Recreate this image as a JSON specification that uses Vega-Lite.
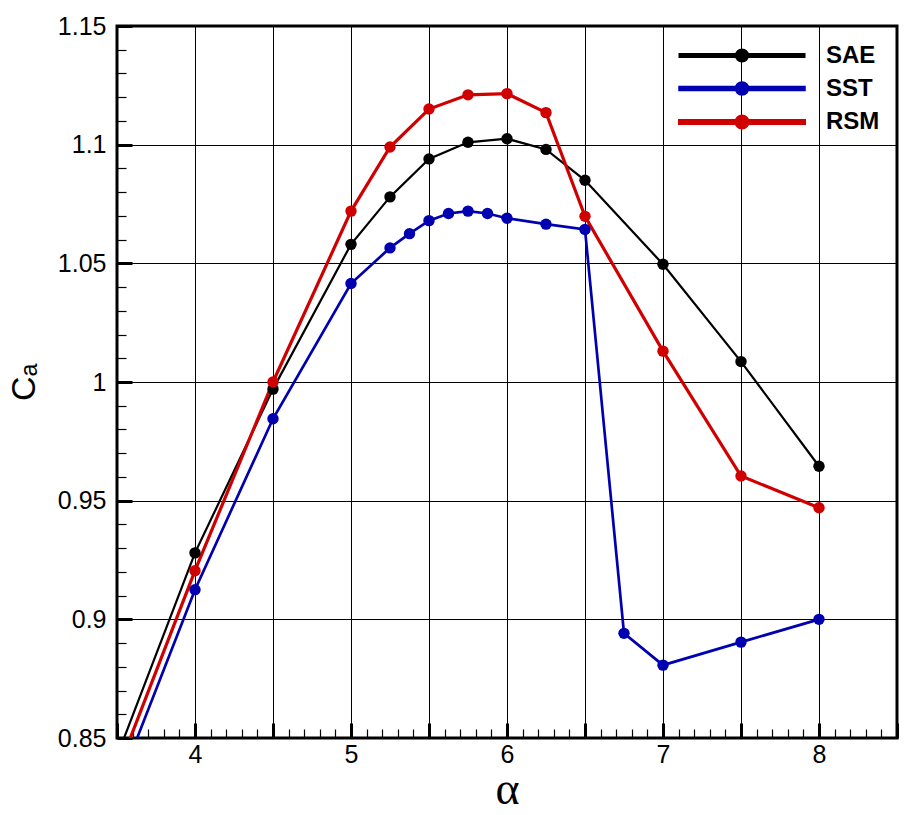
{
  "$schema": "https://vega.github.io/schema/vega-lite/v6.json",
  "width": 780,
  "height": 712,
  "autosize": {"type": "none"},
  "padding": {"left": 117, "top": 26, "right": 17, "bottom": 77},
  "background": "white",
  "config": {
    "view": {"stroke": "black", "strokeWidth": 3},
    "axis": {"labelOverlap": false, "labelBound": false, "labelFlush": false, "tickColor": "black", "domain": false, "zindex": 1}
  },
  "data": {
    "values": [
      {"series": "SAE", "alpha": 3.0, "ca": 0.7565},
      {"series": "SAE", "alpha": 4.0, "ca": 0.928},
      {"series": "SAE", "alpha": 4.5, "ca": 0.997},
      {"series": "SAE", "alpha": 5.0, "ca": 1.058},
      {"series": "SAE", "alpha": 5.25, "ca": 1.078},
      {"series": "SAE", "alpha": 5.5, "ca": 1.094},
      {"series": "SAE", "alpha": 5.75, "ca": 1.101},
      {"series": "SAE", "alpha": 6.0, "ca": 1.1025},
      {"series": "SAE", "alpha": 6.25, "ca": 1.098},
      {"series": "SAE", "alpha": 6.5, "ca": 1.085},
      {"series": "SAE", "alpha": 7.0, "ca": 1.0496},
      {"series": "SAE", "alpha": 7.5, "ca": 1.0086},
      {"series": "SAE", "alpha": 8.0, "ca": 0.9645},
      {"series": "SST", "alpha": 3.0, "ca": 0.744},
      {"series": "SST", "alpha": 4.0, "ca": 0.9125},
      {"series": "SST", "alpha": 4.5, "ca": 0.9845},
      {"series": "SST", "alpha": 5.0, "ca": 1.0415},
      {"series": "SST", "alpha": 5.25, "ca": 1.0565},
      {"series": "SST", "alpha": 5.375, "ca": 1.0625},
      {"series": "SST", "alpha": 5.5, "ca": 1.068},
      {"series": "SST", "alpha": 5.625, "ca": 1.071},
      {"series": "SST", "alpha": 5.75, "ca": 1.072},
      {"series": "SST", "alpha": 5.875, "ca": 1.071},
      {"series": "SST", "alpha": 6.0, "ca": 1.069},
      {"series": "SST", "alpha": 6.25, "ca": 1.0665},
      {"series": "SST", "alpha": 6.5, "ca": 1.0643},
      {"series": "SST", "alpha": 6.75, "ca": 0.8941},
      {"series": "SST", "alpha": 7.0, "ca": 0.8807},
      {"series": "SST", "alpha": 7.5, "ca": 0.8904},
      {"series": "SST", "alpha": 8.0, "ca": 0.9},
      {"series": "RSM", "alpha": 3.0, "ca": 0.7505},
      {"series": "RSM", "alpha": 4.0, "ca": 0.9205},
      {"series": "RSM", "alpha": 4.5, "ca": 1.0},
      {"series": "RSM", "alpha": 5.0, "ca": 1.072},
      {"series": "RSM", "alpha": 5.25, "ca": 1.099},
      {"series": "RSM", "alpha": 5.5, "ca": 1.115},
      {"series": "RSM", "alpha": 5.75, "ca": 1.121},
      {"series": "RSM", "alpha": 6.0, "ca": 1.1215},
      {"series": "RSM", "alpha": 6.25, "ca": 1.1135},
      {"series": "RSM", "alpha": 6.5, "ca": 1.0698},
      {"series": "RSM", "alpha": 7.0, "ca": 1.013},
      {"series": "RSM", "alpha": 7.5, "ca": 0.9604},
      {"series": "RSM", "alpha": 8.0, "ca": 0.947}
    ]
  },
  "encoding": {
    "color": {
      "field": "series",
      "type": "nominal",
      "sort": null,
      "scale": {"domain": ["SAE", "SST", "RSM"], "range": ["#000000", "#0000b0", "#d00000"]},
      "legend": {
        "title": null,
        "orient": "none",
        "legendX": 611,
        "legendY": 16,
        "padding": 0,
        "symbolType": "M-5.2,-0.125H5.2V0.125H-5.2Z M0,-0.5A0.5,0.5 0 1,1 0,0.5A0.5,0.5 0 1,1 0,-0.5Z",
        "symbolSize": 576,
        "symbolStrokeWidth": 0,
        "symbolOpacity": 1,
        "labelOffset": 70,
        "labelFont": "Liberation Sans",
        "labelFontSize": 24,
        "labelFontWeight": "bold",
        "labelColor": "black",
        "rowPadding": 7,
        "encode": {
          "symbols": {
            "update": {
              "fill": {"scale": "color", "field": "value"},
              "strokeWidth": {"value": 0},
              "opacity": {"value": 1}
            }
          }
        }
      }
    }
  },
  "resolve": {"axis": {"x": "independent", "y": "independent"}},
  "layer": [
    {
      "mark": {"type": "line", "clip": true},
      "encoding": {
        "x": {
          "field": "alpha",
          "type": "quantitative",
          "scale": {"domain": [3.5, 8.5], "nice": false, "zero": false},
          "axis": {
            "orient": "bottom",
            "offset": -15,
            "title": "α",
            "titleFont": "Liberation Serif",
            "titleFontSize": 46,
            "titleFontWeight": "normal",
            "titleColor": "black",
            "titlePadding": 0,
            "values": [3.5, 4, 4.5, 5, 5.5, 6, 6.5, 7, 7.5, 8, 8.5],
            "format": "~g",
            "labelExpr": "abs(datum.value - round(datum.value)) < 0.001 ? datum.label : ''",
            "labelFont": "Liberation Sans",
            "labelFontSize": 25,
            "labelColor": "black",
            "labelPadding": 4,
            "grid": true,
            "gridColor": "black",
            "gridWidth": 1,
            "ticks": true,
            "tickSize": 15,
            "tickWidth": 3
          }
        },
        "y": {
          "field": "ca",
          "type": "quantitative",
          "scale": {"domain": [0.85, 1.15], "nice": false, "zero": false},
          "axis": {
            "orient": "left",
            "offset": -15,
            "title": "Cₐ",
            "titleFont": "Liberation Sans",
            "titleFontSize": 34,
            "titleFontWeight": "normal",
            "titleColor": "black",
            "titlePadding": 16,
            "values": [0.85, 0.9, 0.95, 1, 1.05, 1.1, 1.15],
            "format": "~g",
            "labelFont": "Liberation Sans",
            "labelFontSize": 25,
            "labelColor": "black",
            "labelPadding": 11,
            "grid": true,
            "gridColor": "black",
            "gridWidth": 1,
            "ticks": true,
            "tickSize": 15,
            "tickWidth": 3
          }
        },
        "strokeWidth": {
          "field": "series",
          "type": "nominal",
          "scale": {"domain": ["SAE", "SST", "RSM"], "range": [2.2, 3.2, 3.2]},
          "legend": null
        }
      }
    },
    {
      "mark": {"type": "circle", "size": 130, "opacity": 1, "clip": true},
      "encoding": {
        "x": {
          "field": "alpha",
          "type": "quantitative",
          "axis": {
            "orient": "bottom",
            "offset": -9,
            "title": null,
            "labels": false,
            "grid": false,
            "ticks": true,
            "values": [3.6, 3.7, 3.8, 3.9, 4.1, 4.2, 4.3, 4.4, 4.6, 4.7, 4.8, 4.9, 5.1, 5.2, 5.3, 5.4, 5.6, 5.7, 5.8, 5.9, 6.1, 6.2, 6.3, 6.4, 6.6, 6.7, 6.8, 6.9, 7.1, 7.2, 7.3, 7.4, 7.6, 7.7, 7.8, 7.9, 8.1, 8.2, 8.3, 8.4],
            "tickColor": "black",
            "tickSize": 9,
            "tickWidth": 1.2
          }
        },
        "y": {
          "field": "ca",
          "type": "quantitative",
          "axis": {
            "orient": "left",
            "offset": -9,
            "title": null,
            "labels": false,
            "grid": false,
            "ticks": true,
            "values": [0.86, 0.87, 0.88, 0.89, 0.91, 0.92, 0.93, 0.94, 0.96, 0.97, 0.98, 0.99, 1.01, 1.02, 1.03, 1.04, 1.06, 1.07, 1.08, 1.09, 1.11, 1.12, 1.13, 1.14],
            "tickColor": "black",
            "tickSize": 9,
            "tickWidth": 1.2
          }
        }
      }
    }
  ]
}
